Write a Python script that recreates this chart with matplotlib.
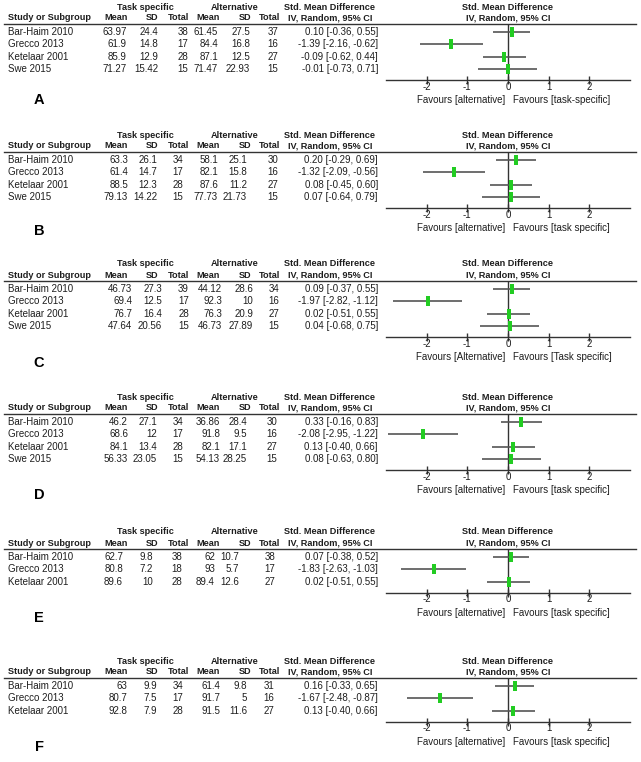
import numpy as np
import matplotlib
matplotlib.use('Agg')
import matplotlib.pyplot as plt

plt.rcParams['font.family'] = ['Liberation Sans', 'DejaVu Sans']
plt.rcParams['axes.unicode_minus'] = False

# Data per panel
letters = ['A', 'B', 'C', 'D', 'E', 'F']
studies4 = ['Bar-Haim 2010', 'Grecco 2013', 'Ketelaar 2001', 'Swe 2015']
studies3 = ['Bar-Haim 2010', 'Grecco 2013', 'Ketelaar 2001']
studies = [studies4, studies4, studies4, studies4, studies3, studies3]

# task specific: mean, sd, total ; alternative: mean, sd, total
ts_mean = [[63.97, 61.9, 85.9, 71.27], [63.3, 61.4, 88.5, 79.13], [46.73, 69.4, 76.7, 47.64],
           [46.2, 68.6, 84.1, 56.33], [62.7, 80.8, 89.6], [63, 80.7, 92.8]]
ts_sd = [[24.4, 14.8, 12.9, 15.42], [26.1, 14.7, 12.3, 14.22], [27.3, 12.5, 16.4, 20.56],
         [27.1, 12, 13.4, 23.05], [9.8, 7.2, 10], [9.9, 7.5, 7.9]]
ts_n = [[38, 17, 28, 15], [34, 17, 28, 15], [39, 17, 28, 15],
        [34, 17, 28, 15], [38, 18, 28], [34, 17, 28]]
alt_mean = [[61.45, 84.4, 87.1, 71.47], [58.1, 82.1, 87.6, 77.73], [44.12, 92.3, 76.3, 46.73],
            [36.86, 91.8, 82.1, 54.13], [62, 93, 89.4], [61.4, 91.7, 91.5]]
alt_sd = [[27.5, 16.8, 12.5, 22.93], [25.1, 15.8, 11.2, 21.73], [28.6, 10, 20.9, 27.89],
          [28.4, 9.5, 17.1, 28.25], [10.7, 5.7, 12.6], [9.8, 5, 11.6]]
alt_n = [[37, 16, 27, 15], [30, 16, 27, 15], [34, 16, 27, 15],
         [30, 16, 27, 15], [38, 17, 27], [31, 16, 27]]

smd = [[0.10, -1.39, -0.09, -0.01], [0.20, -1.32, 0.08, 0.07], [0.09, -1.97, 0.02, 0.04],
       [0.33, -2.08, 0.13, 0.08], [0.07, -1.83, 0.02], [0.16, -1.67, 0.13]]
ci_lo = [[-0.36, -2.16, -0.62, -0.73], [-0.29, -2.09, -0.45, -0.64], [-0.37, -2.82, -0.51, -0.68],
         [-0.16, -2.95, -0.40, -0.63], [-0.38, -2.63, -0.51], [-0.33, -2.48, -0.40]]
ci_hi = [[0.55, -0.62, 0.44, 0.71], [0.69, -0.56, 0.60, 0.79], [0.55, -1.12, 0.55, 0.75],
         [0.83, -1.22, 0.66, 0.80], [0.52, -1.03, 0.55], [0.65, -0.87, 0.66]]

fav_left = ['Favours [alternative]', 'Favours [alternative]', 'Favours [Alternative]',
            'Favours [alternative]', 'Favours [alternative]', 'Favours [alternative]']
fav_right = ['Favours [task-specific]', 'Favours [task specific]', 'Favours [Task specific]',
             'Favours [task specific]', 'Favours [task specific]', 'Favours [task specific]']
tick_vals = [-2, -1, 0, 1, 2]

# Layout (pixels)
W, H = 641, 762
line_y = [24, 152, 281, 414, 549, 678]
letter_y = [100, 231, 363, 495, 618, 747]
num_x = [[127, 158, 188, 218, 250, 278], [128, 157, 183, 218, 247, 278],
         [132, 162, 189, 222, 253, 279], [128, 157, 183, 220, 247, 277],
         [123, 153, 182, 215, 239, 275], [127, 157, 183, 220, 247, 274]]
head_x = [128, 158, 189, 220, 251, 280]
row_gap = 12.4
fs = 7
hfs = 6.6
txt = '#1e1e1e'

fig = plt.figure(figsize=(W / 100, H / 100), dpi=100)
bg = fig.add_axes([0, 0, 1, 1])
bg.set_xlim(0, W)
bg.set_ylim(H, 0)
bg.axis('off')

bar_marker = [(-0.35, -1), (0.35, -1), (0.35, 1), (-0.35, 1), (-0.35, -1)]

for p in range(6):
    ly = line_y[p]
    n = len(studies[p])
    # headers
    bold = dict(va='center', fontsize=hfs, fontweight='bold', color=txt)
    bg.text(145, ly - 17, 'Task specific', ha='center', **bold)
    bg.text(235, ly - 17, 'Alternative', ha='center', **bold)
    bg.text(330, ly - 17, 'Std. Mean Difference', ha='center', **bold)
    bg.text(508, ly - 17, 'Std. Mean Difference', ha='center', **bold)
    bg.text(8, ly - 6, 'Study or Subgroup', ha='left', **bold)
    for x, h in zip(head_x, ['Mean', 'SD', 'Total', 'Mean', 'SD', 'Total']):
        bg.text(x, ly - 6, h, ha='right', **bold)
    bg.text(330, ly - 6, 'IV, Random, 95% CI', ha='center', **bold)
    bg.text(508, ly - 6, 'IV, Random, 95% CI', ha='center', **bold)
    bg.plot([4, 636], [ly, ly], color='#333333', lw=1)

    # table rows
    for i in range(n):
        y = ly + 8 + row_gap * i
        bg.text(8, y, studies[p][i], ha='left', va='center', fontsize=fs, color=txt)
        vals = [ts_mean[p][i], ts_sd[p][i], ts_n[p][i], alt_mean[p][i], alt_sd[p][i], alt_n[p][i]]
        for x, v in zip(num_x[p], vals):
            bg.text(x, y, f'{v:g}', ha='right', va='center', fontsize=fs, color=txt)
        bg.text(378, y, f'{smd[p][i]:.2f} [{ci_lo[p][i]:.2f}, {ci_hi[p][i]:.2f}]',
                ha='right', va='center', fontsize=fs, color=txt)

    bg.text(39, letter_y[p], letters[p], ha='center', va='center', fontsize=10.5, fontweight='bold', color='black')

    # forest plot
    axis_y = ly + 8 + row_gap * (n - 1) + 11
    ax = fig.add_axes([386 / W, 1 - axis_y / H, (630 - 386) / W, (axis_y - ly) / H])
    ax.set_xlim(-3, 3)
    ax.set_ylim(n - 1 + 11 / row_gap, -8 / row_gap)
    ax.patch.set_alpha(0)
    for s in ['top', 'left', 'right']:
        ax.spines[s].set_visible(False)
    ax.spines['bottom'].set_color('#333333')
    ax.spines['bottom'].set_linewidth(1)
    ax.set_yticks([])
    ax.set_xticks(tick_vals)
    ax.set_xticklabels([str(t) for t in tick_vals])
    ax.tick_params(axis='x', direction='inout', length=6, width=1, color='#333333',
                   labelsize=fs, labelcolor=txt, pad=-2)
    ax.axvline(0, color='#333333', lw=1)
    rows = np.arange(n)
    ax.hlines(rows, ci_lo[p], ci_hi[p], color='#555555', lw=1.2)
    ax.plot(smd[p], rows, linestyle='none', marker=bar_marker, markersize=7,
            color='#22cc22', markeredgewidth=0)
    ax.annotate(fav_left[p], xy=(0, 0), xycoords=('data', 'axes fraction'), xytext=(-3, -20),
                textcoords='offset pixels', ha='right', va='center', fontsize=fs, color=txt)
    ax.annotate(fav_right[p], xy=(0, 0), xycoords=('data', 'axes fraction'), xytext=(5, -20),
                textcoords='offset pixels', ha='left', va='center', fontsize=fs, color=txt)

fig.savefig('out.png', dpi=100)
